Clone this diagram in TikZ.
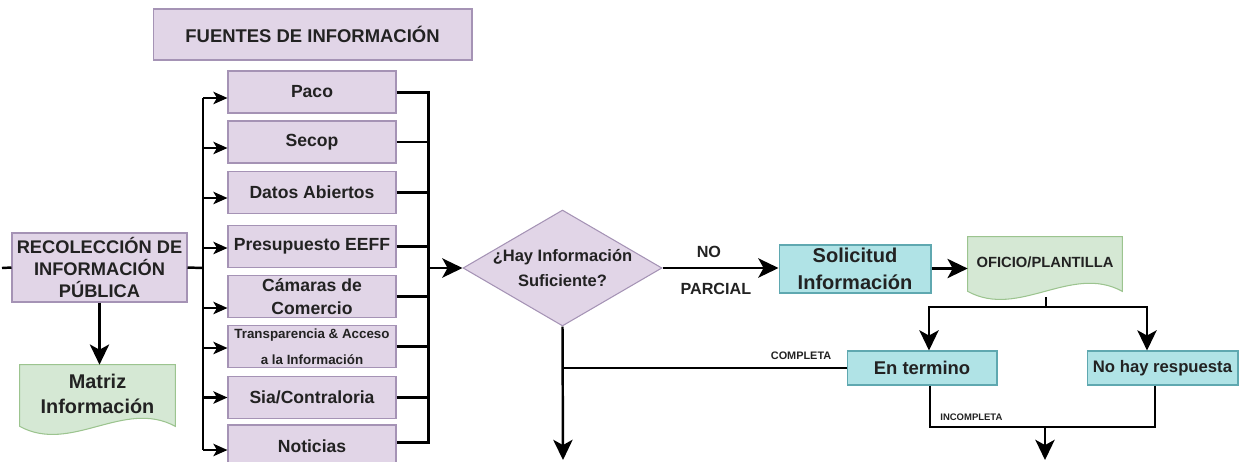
\documentclass[tikz,border=0pt]{standalone}
\usepackage{fontspec}
\setmainfont{Liberation Sans}
\usetikzlibrary{arrows.meta,shapes.geometric,calc}

\definecolor{purplefill}{HTML}{E1D5E7}
\definecolor{purpleedge}{HTML}{A593B5}
\definecolor{cyanfill}{HTML}{B0E3E6}
\definecolor{cyanedge}{HTML}{5FA8B0}
\definecolor{greenfill}{HTML}{D5E8D4}
\definecolor{greenedge}{HTML}{9CC48F}
\definecolor{txt}{HTML}{222222}

% wavy "document" outline drawn around a (borderless) node
\newcommand{\docoutline}[2]{%
  \draw[#2] (#1.north west) -- (#1.north east) -- ($(#1.south east)+(0,-9)$)
    .. controls ($(#1.south east)!0.33!(#1.south west)+(0,-37)$)
           and ($(#1.south east)!0.67!(#1.south west)+(0,19)$)
    .. ($(#1.south west)+(0,-9)$) -- cycle;}

\newcommand{\fs}[2]{\fontsize{#1}{#2}\selectfont}

\begin{document}
\begin{tikzpicture}[x=0.02cm,y=-0.02cm,
  every node/.style={text=txt},
  pbox/.style={draw=purpleedge,fill=purplefill,line width=0.6pt,align=center,
    inner sep=1pt,font=\bfseries\fs{10}{12.5}},
  srcbox/.style={pbox,minimum width=3.36cm,minimum height=0.84cm},
  cbox/.style={draw=cyanedge,fill=cyanfill,line width=0.6pt,align=center,
    inner sep=1pt,minimum height=0.68cm},
  docbox/.style={draw=none,inner sep=0pt},
  link/.style={line width=1.4pt,black},
  arr/.style={link,-{Stealth[length=11.5pt,width=11pt,inset=3pt]}},
  sarr/.style={link,-{Stealth[length=8pt,width=7pt,inset=2pt]}},
  lbl/.style={font=\bfseries\fs{9.2}{11},inner sep=1pt},
  tiny/.style={font=\bfseries\fs{6.2}{7},inner sep=1pt}
]
\useasboundingbox (0,0) rectangle (1246,461);
\clip (0,0) rectangle (1246,461);

% ---- header ----
\node[pbox,minimum width=6.38cm,minimum height=1.02cm,font=\bfseries\fs{10.5}{12}]
  (title) at (312.5,34.5) {FUENTES DE INFORMACIÓN};

% ---- sources ----
\node[srcbox] (paco)   at (312,92)    {Paco};
\node[srcbox] (secop)  at (312,142)   {Secop};
\node[srcbox] (datos)  at (312,192.5) {Datos Abiertos};
\node[srcbox] (presu)  at (312,246.5) {Presupuesto EEFF};
\node[srcbox,font=\bfseries\fs{10}{13}] (camar) at (312,296.5) {Cámaras de\\Comercio};
\node[srcbox,font=\bfseries\fs{7.6}{15}] (trans) at (312,346.5) {Transparencia \& Acceso\\a la Información};
\node[srcbox] (sia)    at (312,397.5) {Sia/Contraloria};
\node[srcbox] (notic)  at (312,446)   {Noticias};

% ---- collection ----
\node[pbox,minimum width=3.5cm,minimum height=1.38cm,font=\bfseries\fs{10.4}{12.5}]
  (reco) at (99.5,267.5) {RECOLECCIÓN DE\\INFORMACIÓN\\PÚBLICA};
\coordinate (stub) at (2,268);
\node[docbox,minimum width=3.1cm,minimum height=1.4cm] (mat) at (97.5,400) {};
\docoutline{mat}{draw=greenedge,fill=greenfill,line width=0.6pt}
\node[font=\bfseries\fs{11.3}{14},align=center] (mattext) at (97.5,394) {Matriz\\Información};

% ---- decision and request ----
\node[diamond,draw=purpleedge,fill=purplefill,line width=0.6pt,minimum width=3.98cm,
  minimum height=2.32cm,inner sep=0pt] (dia) at (562.5,268) {};
\node[align=center,font=\bfseries\fs{9.4}{14.7}] (diatext) at (dia) {¿Hay Información\\Suficiente?};
\node[cbox,minimum width=3.04cm,minimum height=0.96cm,font=\bfseries\fs{11.4}{15}]
  (sol) at (855,269) {Solicitud\\Información};
\node[docbox,minimum width=3.08cm,minimum height=1.26cm] (ofi) at (1045,268.5) {};
\docoutline{ofi}{draw=greenedge,fill=greenfill,line width=0.6pt}
\node[font=\bfseries\fs{8.4}{10}] (ofitext) at (1045,262) {OFICIO/PLANTILLA};
\node[cbox,minimum width=3cm,font=\bfseries\fs{10.5}{12}] (ent) at (922,368) {En termino};
\node[cbox,minimum width=3.02cm,font=\bfseries\fs{9.5}{12}] (noh) at (1162.5,368) {No hay respuesta};

% ---- left feed ----
\coordinate (tl) at (203,268);
\draw[link] (stub) -- (reco.west);
\draw[link] (reco.east) -- (tl);
\draw[arr] (reco.south) -- (reco.south |- mat.north);
\foreach \n/\s in {paco/-0.12,secop/-0.12,datos/-0.11,presu/-0.03,
                   camar/-0.23,trans/-0.03,sia/0,notic/-0.08}{
  \coordinate (\n-in) at ([yshift=\s cm]\n.west);
  \draw[sarr] (tl |- \n-in) -- (\n-in);
}
\draw[link] (tl |- paco-in) -- (tl |- notic-in);

% ---- right collector ----
\coordinate (tr) at (428,268);
\coordinate (notic-out) at ([yshift=0.08cm]notic.east);
\draw[link,line width=1.7pt] (paco.east) -- (tr |- paco.east) -- (tr |- notic-out) -- (notic-out);
\foreach \n in {secop,datos,presu,camar,trans,sia}{
  \draw[link] (\n.east) -- (tr |- \n.east);
}
\draw[arr] (tr |- dia.west) -- (dia.west);

% ---- decision branches ----
\draw[arr] (dia.east) -- (dia.east -| sol.west)
  node[lbl,pos=0.4,above=4pt] {NO}
  node[lbl,pos=0.46,below=7pt] {PARCIAL};
\coordinate (diaout) at (563,460);
\draw[arr] (dia.south) -- (diaout);
\draw[link] (ent.west) -- (dia.south |- ent.west)
  node[tiny,pos=0.16,above=3pt] {COMPLETA};

% ---- request flow ----
\draw[arr] (sol.east |- ofi.west) -- (ofi.west);
\coordinate (split) at (1046,307);
\draw[link] (1046,297) -- (split);
\draw[arr] (split) -| ([xshift=0.14cm]ent.north);
\draw[arr] (split) -| ([xshift=-0.31cm]noh.north);

\coordinate (merge) at (1045,427);
\draw[link] ([xshift=0.16cm]ent.south) |- (merge)
  node[tiny,pos=0.68,above=2pt,font=\bfseries\fs{5.4}{6}] {INCOMPLETA};
\draw[link] ([xshift=-0.15cm]noh.south) |- (merge);
\coordinate (mergeout) at (1045,460);
\draw[arr] (merge) -- (mergeout);
\end{tikzpicture}
\end{document}
